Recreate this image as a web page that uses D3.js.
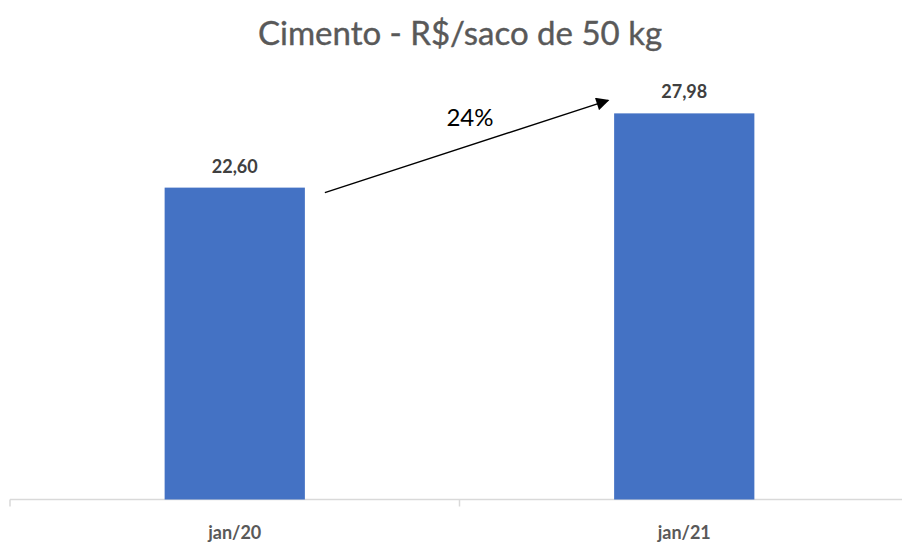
<!DOCTYPE html>
<html>
<head>
<meta charset="utf-8">
<script src="https://cdn.jsdelivr.net/npm/d3@7"></script>
<style>
  body { margin: 0; background: #fff; }
  svg { font-family: Lato, "Open Sans", sans-serif; }
</style>
</head>
<body>
<svg id="chart" width="902" height="545"></svg>
<script>
// Chart data
const categories = ['jan/20', 'jan/21'];
const values = [22.60, 27.98];
const growthLabel = '24%';

const svg = d3.select('#chart');
const margin = { left: 10, right: 0, top: 85, bottom: 45 };
const W = 902, H = 545;

const x = d3.scaleBand()
  .domain(categories)
  .range([margin.left, W - margin.right + 7])
  .paddingInner(0.688)
  .paddingOuter(0.344);

const y = d3.scaleLinear()
  .domain([0, 30])
  .range([H - margin.bottom - 0.5, H - margin.bottom - 0.5 - 414]);

// Title
svg.append('text')
  .attr('x', 460)
  .attr('y', 45)
  .attr('text-anchor', 'middle')
  .style('font-size', '33px')
  .style('fill', '#595959')
  .style('stroke', '#595959')
  .style('stroke-width', 0.4)
  .text('Cimento - R$/saco de 50 kg');

// Axis line with category separators
const axisY = y(0);
const xAxis = svg.append('g').attr('transform', `translate(0,${axisY})`);

xAxis.append('line')
  .attr('x1', 10).attr('x2', W)
  .attr('y1', 0).attr('y2', 0)
  .style('stroke', '#d9d9d9')
  .style('stroke-width', 1.5);

const sep = [10, (x('jan/20') + x('jan/21') + x.bandwidth()) / 2];
xAxis.selectAll('.tick-sep')
  .data(sep)
  .join('line')
  .attr('x1', d => d).attr('x2', d => d)
  .attr('y1', 0).attr('y2', 7)
  .style('stroke', '#d9d9d9')
  .style('stroke-width', 1.5);

xAxis.selectAll('.cat')
  .data(categories)
  .join('text')
  .attr('x', d => x(d) + x.bandwidth() / 2)
  .attr('y', 39)
  .attr('text-anchor', 'middle')
  .style('font-size', '18px')
  .style('font-weight', 'bold')
  .style('fill', '#595959')
  .text(d => d);

// Bars
svg.selectAll('.bar')
  .data(values)
  .join('rect')
  .attr('x', (d, i) => x(categories[i]))
  .attr('width', x.bandwidth())
  .attr('y', d => y(d))
  .attr('height', d => y(0) - y(d))
  .style('fill', '#4472C4');

// Data labels
svg.selectAll('.label')
  .data(values)
  .join('text')
  .attr('x', (d, i) => x(categories[i]) + x.bandwidth() / 2)
  .attr('y', d => y(d) - 15)
  .attr('text-anchor', 'middle')
  .style('font-size', '18px')
  .style('font-weight', 'bold')
  .style('fill', '#404040')
  .text(d => d3.format('.2f')(d).replace('.', ','));

// Growth arrow
svg.append('defs').append('marker')
  .attr('id', 'arrowhead')
  .attr('viewBox', '0 0 10 10')
  .attr('refX', 9).attr('refY', 5)
  .attr('markerWidth', 15).attr('markerHeight', 13)
  .attr('markerUnits', 'userSpaceOnUse')
  .attr('orient', 'auto')
  .append('path')
  .attr('d', 'M0,0 L10,5 L0,10 Z')
  .style('fill', '#000');

const x0 = x(categories[0]) + x.bandwidth() + 20;
const x1 = x(categories[1]) - 6;
svg.append('line')
  .attr('x1', x0).attr('y1', y(values[0]) + 5)
  .attr('x2', x1).attr('y2', y(values[1]) - 13)
  .style('stroke', '#000')
  .style('stroke-width', 1.5)
  .attr('marker-end', 'url(#arrowhead)');

svg.append('text')
  .attr('x', 470)
  .attr('y', 126)
  .attr('text-anchor', 'middle')
  .style('font-size', '24px')
  .style('fill', '#000')
  .text(growthLabel);
</script>
</body>
</html>
